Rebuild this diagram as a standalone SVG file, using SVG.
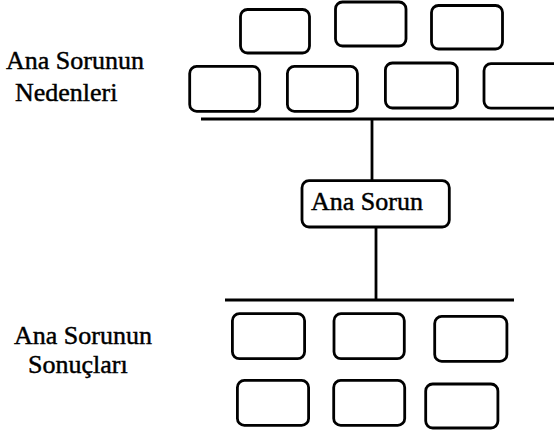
<svg xmlns="http://www.w3.org/2000/svg" width="554" height="434" viewBox="0 0 554 434">
<style>
.box{fill:#fff;stroke:#000;stroke-width:2.8}
.ln{stroke:#000;stroke-width:2.8;fill:none}
.t{font-family:"Liberation Serif","Times New Roman",serif;font-size:26px;fill:#000;stroke:#000;stroke-width:0.45}
</style>
<rect width="554" height="434" fill="#fff"/>
<g id="connectors">
<line class="ln" x1="201" y1="119" x2="554" y2="119"/>
<line class="ln" x1="372" y1="119" x2="372" y2="181"/>
<line class="ln" x1="376" y1="227" x2="376" y2="300"/>
<line class="ln" x1="225" y1="300" x2="514" y2="300"/>
</g>
<g id="label-nedenler">
<text class="t" x="6" y="69">Ana Sorunun</text>
<text class="t" x="15" y="101">Nedenleri</text>
</g>
<g id="label-sonuclar">
<text class="t" x="14" y="344">Ana Sorunun</text>
<text class="t" x="28" y="373">Sonuçları</text>
</g>
<g id="cause1"><rect class="box" x="240.5" y="9.5" width="69" height="43.5" rx="7"/></g>
<g id="cause2"><rect class="box" x="335.5" y="2" width="70.5" height="44" rx="7"/></g>
<g id="cause3"><rect class="box" x="431.5" y="5.5" width="71" height="43.5" rx="7"/></g>
<g id="cause4"><rect class="box" x="189.7" y="66.4" width="70" height="45" rx="7"/></g>
<g id="cause5"><rect class="box" x="287.4" y="66.4" width="70" height="45" rx="7"/></g>
<g id="cause6"><rect class="box" x="385.4" y="63" width="72" height="45" rx="7"/></g>
<g id="cause7"><rect class="box" x="484" y="63.7" width="80" height="44.5" rx="7"/></g>
<g id="ana-sorun">
<rect class="box" x="302" y="180.7" width="147.3" height="46.3" rx="7"/>
<text class="t" x="311" y="210">Ana Sorun</text>
</g>
<g id="result1"><rect class="box" x="232.4" y="313.7" width="72.2" height="45" rx="7"/></g>
<g id="result2"><rect class="box" x="334" y="313.7" width="70.3" height="45" rx="7"/></g>
<g id="result3"><rect class="box" x="434.7" y="316.4" width="72.2" height="45" rx="7"/></g>
<g id="result4"><rect class="box" x="237.4" y="380.4" width="71.2" height="45" rx="7"/></g>
<g id="result5"><rect class="box" x="333.7" y="380.4" width="71" height="45" rx="7"/></g>
<g id="result6"><rect class="box" x="425.7" y="384" width="72.2" height="44" rx="7"/></g>
</svg>
